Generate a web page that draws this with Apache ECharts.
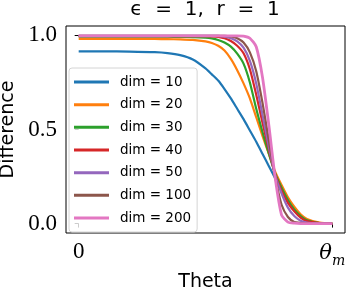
<!DOCTYPE html>
<html>
<head>
<meta charset="utf-8">
<script src="https://cdn.jsdelivr.net/npm/echarts@6/dist/echarts.min.js"></script>
<style>html,body{margin:0;padding:0;background:#fff;}#c{width:346px;height:288px;}</style>
</head>
<body>
<div id="c"></div>
<script>
const theta = [0, 0.1, 0.2, 0.3, 0.35, 0.4, 0.45, 0.5, 0.525, 0.55, 0.575, 0.6, 0.625, 0.65, 0.675, 0.7, 0.725, 0.75, 0.775, 0.8, 0.825, 0.85, 0.875, 0.9, 0.95, 1.0];
const seriesNames = ['dim = 10', 'dim = 20', 'dim = 30', 'dim = 40', 'dim = 50', 'dim = 100', 'dim = 200'];
const dim10  = [0.915, 0.915, 0.914, 0.911, 0.906, 0.895, 0.872, 0.825, 0.793, 0.76, 0.715, 0.665, 0.61, 0.555, 0.495, 0.435, 0.37, 0.305, 0.24, null, null, null, null, null, null, null];
const dim20  = [0.981, 0.981, 0.981, 0.981, 0.98, 0.979, 0.976, 0.968, 0.96, 0.945, 0.92, 0.875, 0.815, 0.745, 0.665, 0.565, 0.465, 0.37, 0.275, 0.205, 0.14, 0.09, 0.05, 0.025, 0.005, 0.001];
const dim30  = [0.994, 0.994, 0.994, 0.994, 0.993, 0.992, 0.991, 0.988, 0.984, 0.976, 0.962, 0.94, 0.903, 0.85, 0.75, 0.61, 0.485, 0.37, 0.265, 0.19, 0.125, 0.075, 0.04, 0.018, 0.003, 0.0];
const dim40  = [0.996, 0.996, 0.996, 0.996, 0.996, 0.996, 0.996, 0.996, 0.995, 0.992, 0.985, 0.97, 0.945, 0.905, 0.82, 0.685, 0.535, 0.39, 0.26, 0.175, 0.11, 0.065, 0.032, 0.013, 0.002, 0.0];
const dim50  = [0.997, 0.997, 0.997, 0.997, 0.997, 0.997, 0.997, 0.997, 0.997, 0.997, 0.993, 0.985, 0.968, 0.935, 0.865, 0.745, 0.575, 0.405, 0.255, 0.16, 0.085, 0.04, 0.015, 0.005, 0.001, 0.0];
const dim100 = [0.998, 0.998, 0.998, 0.998, 0.998, 0.998, 0.998, 0.998, 0.998, 0.998, 0.998, 0.995, 0.985, 0.962, 0.91, 0.81, 0.64, 0.44, 0.245, 0.1, 0.035, 0.008, 0.003, 0.001, 0.0, 0.0];
const dim200 = [0.998, 0.998, 0.998, 0.998, 0.998, 0.998, 0.998, 0.998, 0.998, 0.998, 0.998, 0.998, 0.998, 0.996, 0.985, 0.94, 0.775, 0.52, 0.24, 0.045, 0.008, 0.002, 0.0, 0.0, 0.0, 0.0];
const allValues = [dim10, dim20, dim30, dim40, dim50, dim100, dim200];
const colors = ['#1f77b4', '#ff7f0e', '#2ca02c', '#d62728', '#9467bd', '#8c564b', '#e377c2'];
const xTicks = [0, 1];
const xTickLabels = ['0', '{t|θ}{s|m}'];
const yTicks = [0, 0.5, 1.0];

const chart = echarts.init(document.getElementById('c'), null, {renderer: 'canvas'});
const series = allValues.map((vals, i) => ({
  name: seriesNames[i],
  type: 'line',
  data: theta.map((t, k) => [t, vals[k]]),
  symbol: 'none',
  showSymbol: false,
  smooth: 0.2,
  connectNulls: false,
  lineStyle: {color: colors[i], width: i === 6 ? 2.8 : 2.2, join: 'round'},
  itemStyle: {color: colors[i]},
  animation: false
}));

chart.setOption({
  animation: false,
  title: {
    text: 'ϵ  =  1,  r  =  1',
    left: 205,
    textAlign: 'center',
    top: 0,
    padding: 0,
    textStyle: {fontFamily: 'DejaVu Sans', fontSize: 20, fontWeight: 'normal', color: '#000'}
  },
  grid: {left: 66, top: 26, right: 1, bottom: 55, outerBoundsMode: 'none', containLabel: false, show: true, borderColor: '#000', borderWidth: 1, backgroundColor: 'transparent'},
  xAxis: {
    type: 'value', min: -0.05, max: 1.05,
    name: 'Theta', nameLocation: 'middle', nameGap: 31,
    nameTextStyle: {fontFamily: 'DejaVu Sans', fontSize: 19, color: '#000'},
    axisLine: {show: false},
    splitLine: {show: false},
    axisTick: {show: true, customValues: xTicks, length: 4, lineStyle: {color: '#000', width: 1}},
    axisLabel: {
      customValues: xTicks, margin: 7, color: '#000',
      fontFamily: 'Liberation Serif', fontSize: 23,
      formatter: v => xTickLabels[xTicks.indexOf(v)],
      rich: {
        t: {fontFamily: 'DejaVu Serif', fontStyle: 'italic', fontSize: 21, color: '#000', verticalAlign: 'bottom', lineHeight: 24},
        s: {fontFamily: 'DejaVu Serif', fontStyle: 'italic', fontSize: 14, color: '#000', verticalAlign: 'bottom', lineHeight: 15, padding: [0, 0, -4, 0]}
      }
    }
  },
  yAxis: {
    type: 'value', min: -0.05, max: 1.05,
    name: 'Difference', nameLocation: 'middle', nameGap: 45, nameRotate: 90,
    nameTextStyle: {fontFamily: 'DejaVu Sans', fontSize: 19, color: '#000'},
    axisLine: {show: false},
    splitLine: {show: false},
    axisTick: {show: true, customValues: yTicks, length: 4, lineStyle: {color: '#000', width: 1}},
    axisLabel: {
      customValues: yTicks, margin: 9, color: '#000',
      fontFamily: 'Liberation Serif', fontSize: 23,
      formatter: v => v.toFixed(1)
    }
  },
  legend: {
    orient: 'vertical', left: 69, top: 68,
    padding: [7, 6, 7, 5],
    icon: 'rect',
    itemWidth: 35, itemHeight: 3, itemGap: 8.67,
    backgroundColor: 'rgba(255,255,255,0.8)',
    borderColor: '#d4d4d4', borderWidth: 1, borderRadius: 3,
    textStyle: {fontFamily: 'DejaVu Sans', fontSize: 13.5, color: '#000', padding: [0, 0, 0, 6], lineHeight: 14},
    data: seriesNames
  },
  series: series
});
</script>
</body>
</html>
